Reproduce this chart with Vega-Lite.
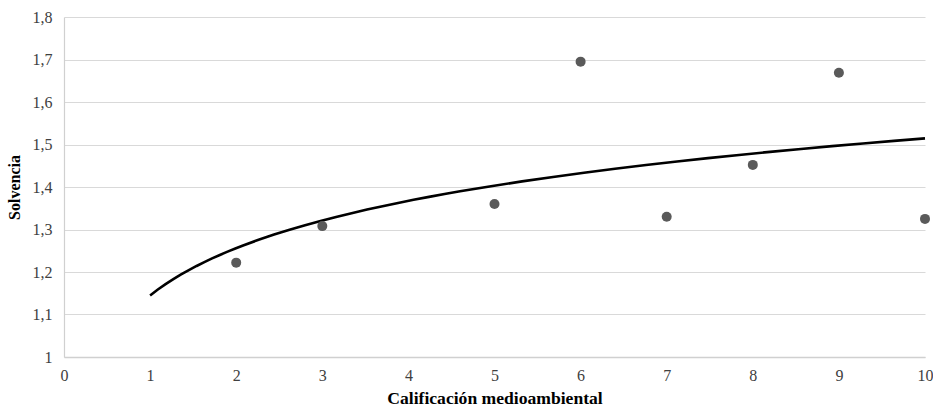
{
  "$schema": "https://vega.github.io/schema/vega-lite/v6.json",
  "width": 861,
  "height": 340,
  "autosize": {"type": "none"},
  "padding": {"left": 64, "top": 17, "right": 8, "bottom": 56},
  "background": "white",
  "config": {
    "view": {"stroke": null},
    "font": "Liberation Serif",
    "axis": {
      "labelFont": "Liberation Serif",
      "titleFont": "Liberation Serif",
      "labelColor": "#404040",
      "titleColor": "#000000",
      "labelFontSize": 16,
      "titleFontSize": 16,
      "titleFontWeight": "bold",
      "labelFlush": false,
      "domainColor": "#d0d0d0",
      "gridColor": "#d9d9d9",
      "gridWidth": 1.2,
      "ticks": false
    }
  },
  "data": {
    "values": [
      {"calificacion": 2, "solvencia": 1.222},
      {"calificacion": 3, "solvencia": 1.308},
      {"calificacion": 5, "solvencia": 1.360},
      {"calificacion": 6, "solvencia": 1.695},
      {"calificacion": 7, "solvencia": 1.330},
      {"calificacion": 8, "solvencia": 1.452},
      {"calificacion": 9, "solvencia": 1.669},
      {"calificacion": 10, "solvencia": 1.325}
    ]
  },
  "encoding": {
    "x": {
      "field": "calificacion",
      "type": "quantitative",
      "title": "Calificación medioambiental",
      "scale": {"domain": [0, 10], "nice": false, "zero": false},
      "axis": {
        "values": [0, 1, 2, 3, 4, 5, 6, 7, 8, 9, 10],
        "grid": false,
        "labelPadding": 10,
        "titlePadding": 6,
        "titleFontSize": 17.6,
        "domainWidth": 1.5
      }
    },
    "y": {
      "field": "solvencia",
      "type": "quantitative",
      "title": "Solvencia",
      "scale": {"domain": [1, 1.8], "nice": false, "zero": false},
      "axis": {
        "values": [1, 1.1, 1.2, 1.3, 1.4, 1.5, 1.6, 1.7, 1.8],
        "labelExpr": "replace(format(datum.value, '~g'), '.', ',')",
        "labelPadding": 12,
        "titlePadding": 10,
        "domainWidth": 1.2
      }
    }
  },
  "layer": [
    {
      "transform": [
        {"regression": "solvencia", "on": "calificacion", "method": "log", "extent": [1, 10]}
      ],
      "mark": {"type": "line", "color": "#000000", "strokeWidth": 2.6}
    },
    {
      "mark": {"type": "circle", "color": "#5a5a5a", "opacity": 1, "size": 100}
    }
  ]
}
